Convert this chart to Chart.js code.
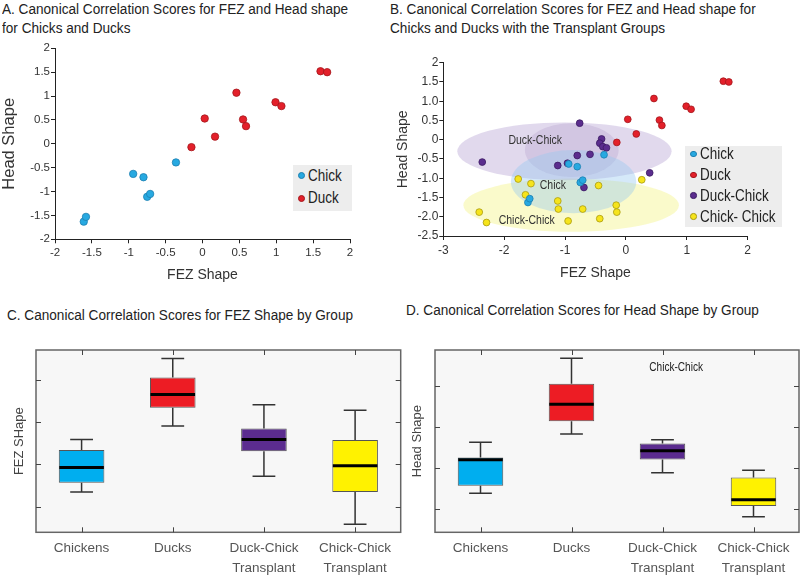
<!DOCTYPE html>
<html>
<head>
<meta charset="utf-8">
<script src="https://cdn.jsdelivr.net/npm/chart.js@4.4.0/dist/chart.umd.min.js"></script>
<style>
    html, body { margin: 0; padding: 0; background: #fff; }
    body { width: 800px; height: 576px; position: relative; overflow: hidden; }
    canvas { position: absolute; }
    .title {
        position: absolute; white-space: nowrap; color: #222;
        font-family: 'Liberation Sans', Arial, sans-serif;
        font-size: 15.5px; line-height: 18.5px;
        transform: scaleX(0.877); transform-origin: 0 0;
    }
    .legend { position: absolute; background: #ededed; }
    .legend .row {
        position: absolute; left: 0; white-space: nowrap; color: #222;
        font-family: 'Liberation Sans', Arial, sans-serif;
        font-size: 16px; height: 20px; line-height: 20px;
    }
    .legend .dot {
        display: inline-block; border-radius: 50%; vertical-align: middle;
        position: relative; top: -1px; margin-right: 3px; box-sizing: border-box;
    }
    .legend .txt { display: inline-block; transform: scaleX(0.84); transform-origin: 0 50%; }
</style>
</head>
<body>
<div class="title" style="left:2px; top:0px;">A. Canonical Correlation Scores for FEZ and Head shape<br>for Chicks and Ducks</div>
<div class="title" style="left:390px; top:0px;">B. Canonical Correlation Scores for FEZ and Head shape for<br>Chicks and Ducks with the Transplant Groups</div>
<div class="title" style="left:7px; top:306px;">C. Canonical Correlation Scores for FEZ Shape by Group</div>
<div class="title" style="left:406px; top:301px;">D. Canonical Correlation Scores for Head Shape by Group</div>

<canvas id="chartA" width="400" height="290" style="left:0; top:0;"></canvas>
<canvas id="chartB" width="405" height="290" style="left:395px; top:0;"></canvas>
<canvas id="chartC" width="403" height="286" style="left:0; top:290px;"></canvas>
<canvas id="chartD" width="400" height="286" style="left:400px; top:290px;"></canvas>

<div class="legend" id="legendA" style="left:293px; top:165px; width:59px; height:46px;"></div>
<div class="legend" id="legendB" style="left:685px; top:146px; width:97px; height:81px;"></div>

<script>
// scatter scores: x = FEZ shape, y = head shape
const chickFez = [-1.61, -1.58, -0.94, -0.80, -0.75, -0.71, -0.36];
const chickHead = [-1.63, -1.53, -0.63, -0.70, -1.11, -1.05, -0.39];
const duckFez = [-0.15, 0.03, 0.17, 0.46, 0.55, 0.59, 0.99, 1.07, 1.60, 1.69];
const duckHead = [-0.07, 0.53, 0.15, 1.07, 0.51, 0.37, 0.87, 0.79, 1.52, 1.50];
const duckChickFez = [-0.76, -0.40, -0.43, -0.38, -0.32, -0.59, -0.80, -1.12, -2.36, 0.39, -0.69, -0.96];
const duckChickHead = [0.43, 0.02, -0.09, -0.18, -0.21, -0.38, -0.41, -0.67, -0.58, -0.86, -1.24, -0.61];
const chickChickFez = [-1.77, -1.56, -1.65, -2.41, -2.29, -1.12, -1.11, -0.95, -0.71, -0.45, -0.43, -0.16, -0.15, 0.26];
const chickChickHead = [-1.02, -1.14, -1.43, -1.88, -2.15, -1.59, -1.80, -2.11, -1.80, -1.19, -2.05, -1.70, -1.88, -1.04];

// group ellipses in panel B (centre and radii in score units)
const ellipseCx = [-0.90, -1.01, -0.89, -0.86];
const ellipseCy = [-1.70, -0.30, -0.27, -1.09];
const ellipseRx = [1.77, 1.76, 0.77, 1.03];
const ellipseRy = [0.69, 0.75, 0.70, 0.82];
const ellipseLabels = ['Chick-Chick', 'Duck-Chick', 'Chick'];
const ellipseLabelX = [-1.63, -1.49, -1.20];
const ellipseLabelY = [-2.09, -0.01, -1.18];

// axis ticks
const aTicks = [-2, -1.5, -1, -0.5, 0, 0.5, 1, 1.5, 2];
const aTickLabels = ['-2', '-1.5', '-1', '-0.5', '0', '0.5', '1', '1.5', '2'];
const bXTicks = [-3, -2, -1, 0, 1, 2];
const bXTickLabels = ['-3', '-2', '-1', '0', '1', '2'];
const bYTicks = [-2.5, -2, -1.5, -1, -0.5, 0, 0.5, 1, 1.5, 2];
const bYTickLabels = ['-2.5', '-2.0', '-1.5', '-1.0', '-0.5', '0', '0.5', '1.0', '1.5', '2'];
const boxTicks = [1, 2, 3, 4];

// box plots (unlabelled score axis)
const groups = [['Chickens'], ['Ducks'], ['Duck-Chick', 'Transplant'], ['Chick-Chick', 'Transplant']];
const fezMin = [1.35, 2.91, 1.72, 0.59];
const fezQ1 = [1.57, 3.34, 2.31, 1.35];
const fezMed = [1.93, 3.65, 2.59, 1.97];
const fezQ3 = [2.34, 4.05, 2.85, 2.58];
const fezMax = [2.59, 4.50, 3.41, 3.28];
const headMin = [1.39, 2.83, 1.89, 0.82];
const headQ1 = [1.57, 3.14, 2.21, 1.08];
const headMed = [2.20, 3.55, 2.42, 1.23];
const headQ3 = [2.26, 4.05, 2.60, 1.77];
const headMax = [2.63, 4.67, 2.69, 1.95];
const headNote = 'Chick-Chick';
const headNoteX = 2.15;
const headNoteY = 4.43;

const plain = "'Liberation Sans', Arial, sans-serif";

const dotColors = {
    chick: ['#27a9e1', '#1d7fb0'],
    duck: ['#e3202a', '#a3161c'],
    duckChick: ['#5b2d8e', '#3c1c63'],
    chickChick: ['#f6e41c', '#a99a10'],
};
const ellipseFills = ['rgba(245,245,140,0.45)', 'rgba(180,160,210,0.4)', 'rgba(150,120,180,0.2)', 'rgba(150,200,240,0.4)'];
const boxColors = ['#00aeef', '#ed1c24', '#5b2c8f', '#fff200'];

Chart.defaults.font.family = plain;
Chart.defaults.color = '#333';
Chart.defaults.animation = false;
Chart.defaults.plugins.legend.display = false;
Chart.defaults.plugins.tooltip.enabled = false;

const pointSet = (label, xs, ys, colors, radius) => ({
    label,
    data: xs.map((x, i) => ({ x, y: ys[i] })),
    backgroundColor: colors[0],
    borderColor: colors[1],
    borderWidth: 0.8,
    pointRadius: radius,
});

const fixTicks = (values) => (scale) => {
    scale.ticks = values.map((v) => ({ value: v }));
};

// draws horizontally squeezed text, like the narrow lettering of the figure
const narrowText = (ctx, text, x, y, size, squeeze) => {
    ctx.save();
    ctx.font = size + 'px ' + plain;
    ctx.textAlign = 'center';
    ctx.textBaseline = 'middle';
    ctx.translate(x, y);
    ctx.scale(squeeze, 1);
    ctx.fillText(text, 0, 0);
    ctx.restore();
};

const linearAxis = (min, max, ticks, labels, fontSize, size, isX, title, titleSize) => ({
    type: 'linear',
    min,
    max,
    afterBuildTicks: fixTicks(ticks),
    afterFit: (scale) => {
        if (isX) {
            scale.height = size;
        } else {
            scale.width = size;
        }
    },
    grid: { display: true, drawOnChartArea: false, drawTicks: true, tickLength: 4, color: '#222' },
    border: { display: true, color: '#222', width: 1 },
    ticks: {
        autoSkip: false,
        maxRotation: 0,
        padding: isX ? 3 : 1,
        color: '#333',
        font: { size: fontSize },
        callback: (value, index) => labels[index],
    },
    title: { display: true, text: title, color: '#333', font: { size: titleSize }, padding: { top: 0, bottom: 0 } },
});

const ellipsePlugin = {
    id: 'groupEllipses',
    beforeDatasetsDraw(chart) {
        const { ctx, scales: { x, y } } = chart;
        ctx.save();
        ellipseCx.forEach((cx, i) => {
            const px = x.getPixelForValue(cx);
            const py = y.getPixelForValue(ellipseCy[i]);
            const rx = Math.abs(x.getPixelForValue(cx + ellipseRx[i]) - px);
            const ry = Math.abs(y.getPixelForValue(ellipseCy[i] + ellipseRy[i]) - py);
            ctx.fillStyle = ellipseFills[i];
            ctx.beginPath();
            ctx.ellipse(px, py, rx, ry, 0, 0, Math.PI * 2);
            ctx.fill();
        });
        ctx.fillStyle = '#333';
        ellipseLabels.forEach((text, i) => {
            narrowText(ctx, text, x.getPixelForValue(ellipseLabelX[i]), y.getPixelForValue(ellipseLabelY[i]), 12.5, 0.84);
        });
        ctx.restore();
    },
};

new Chart(document.getElementById('chartA'), {
    type: 'scatter',
    data: {
        datasets: [
            pointSet('Chick', chickFez, chickHead, dotColors.chick, 3.7),
            pointSet('Duck', duckFez, duckHead, dotColors.duck, 3.7),
        ],
    },
    options: {
        responsive: false,
        layout: { padding: { left: 0, top: 48.3, right: 50, bottom: 6.7 } },
        scales: {
            x: linearAxis(-2, 2, aTicks, aTickLabels, 11.5, 44, true, 'FEZ Shape', 14),
            y: linearAxis(-2, 2, aTicks, aTickLabels, 11.5, 55, false, 'Head Shape', 16.5),
        },
    },
});

new Chart(document.getElementById('chartB'), {
    type: 'scatter',
    data: {
        datasets: [
            pointSet('Chick', chickFez, chickHead, dotColors.chick, 3.4),
            pointSet('Duck', duckFez, duckHead, dotColors.duck, 3.4),
            pointSet('Duck-Chick', duckChickFez, duckChickHead, dotColors.duckChick, 3.4),
            pointSet('Chick- Chick', chickChickFez, chickChickHead, dotColors.chickChick, 3.4),
        ],
    },
    options: {
        responsive: false,
        layout: { padding: { left: 0, top: 62.7, right: 52.3, bottom: 8.7 } },
        scales: {
            x: linearAxis(-3, 2, bXTicks, bXTickLabels, 12, 45.3, true, 'FEZ Shape', 14),
            y: linearAxis(-2.5, 2, bYTicks, bYTickLabels, 12, 48.3, false, 'Head Shape', 14),
        },
    },
    plugins: [ellipsePlugin],
});

const boxPlugin = (mins, q1s, meds, q3s, maxs, note) => ({
    id: 'boxWhiskers',
    beforeDatasetsDraw(chart) {
        const { ctx, chartArea: a } = chart;
        ctx.save();
        ctx.fillStyle = '#f7f7f7';
        ctx.fillRect(a.left, a.top, a.width, a.height);
        ctx.restore();
    },
    afterDatasetsDraw(chart) {
        const { ctx, scales: { x, y } } = chart;
        const meta = chart.getDatasetMeta(0);
        ctx.save();
        mins.forEach((lo, i) => {
            const cx = x.getPixelForValue(i);
            const half = meta.data[i].width / 2;
            const cap = meta.data[i].width / 4;
            const yMax = y.getPixelForValue(maxs[i]);
            const yMin = y.getPixelForValue(lo);
            ctx.strokeStyle = '#333';
            ctx.lineWidth = 1.5;
            ctx.beginPath();
            ctx.moveTo(cx, yMax);
            ctx.lineTo(cx, y.getPixelForValue(q3s[i]));
            ctx.moveTo(cx, y.getPixelForValue(q1s[i]));
            ctx.lineTo(cx, yMin);
            ctx.moveTo(cx - cap, yMax);
            ctx.lineTo(cx + cap, yMax);
            ctx.moveTo(cx - cap, yMin);
            ctx.lineTo(cx + cap, yMin);
            ctx.stroke();
            const ym = y.getPixelForValue(meds[i]);
            ctx.strokeStyle = '#000';
            ctx.lineWidth = 3;
            ctx.beginPath();
            ctx.moveTo(cx - half + 0.5, ym);
            ctx.lineTo(cx + half - 0.5, ym);
            ctx.stroke();
        });
        if (note) {
            ctx.fillStyle = '#222';
            narrowText(ctx, note.text, x.getPixelForValue(note.x), y.getPixelForValue(note.y), 12, 0.84);
        }
        ctx.restore();
    },
    afterDraw(chart) {
        const { ctx, chartArea: a, scales: { x, y } } = chart;
        ctx.save();
        ctx.strokeStyle = '#666';
        ctx.lineWidth = 1.5;
        ctx.strokeRect(a.left, a.top, a.width, a.height);
        ctx.strokeStyle = '#444';
        ctx.lineWidth = 1;
        ctx.beginPath();
        y.ticks.forEach((t) => {
            const py = Math.round(y.getPixelForValue(t.value)) + 0.5;
            ctx.moveTo(a.left, py);
            ctx.lineTo(a.left + 5, py);
            ctx.moveTo(a.right, py);
            ctx.lineTo(a.right - 5, py);
        });
        groups.forEach((g, i) => {
            const px = Math.round(x.getPixelForValue(i)) + 0.5;
            ctx.moveTo(px, a.top);
            ctx.lineTo(px, a.top + 5);
            ctx.moveTo(px, a.bottom);
            ctx.lineTo(px, a.bottom - 5);
        });
        ctx.stroke();
        ctx.restore();
    },
});

const boxChart = (id, mins, q1s, meds, q3s, maxs, yMin, yMax, yTitle, titlePad, yWidth, padRight, note) => new Chart(document.getElementById(id), {
    type: 'bar',
    data: {
        labels: groups,
        datasets: [{
            data: q1s.map((q, i) => [q, q3s[i]]),
            backgroundColor: boxColors,
            borderColor: '#555',
            borderWidth: 1,
            borderSkipped: false,
            barPercentage: 0.5,
            categoryPercentage: 1,
        }],
    },
    options: {
        responsive: false,
        layout: { padding: { left: 0, top: 60, right: padRight, bottom: 0 } },
        scales: {
            x: {
                afterFit: (scale) => { scale.height = 43.7; },
                grid: { display: false },
                border: { display: false },
                ticks: {
                    autoSkip: false,
                    maxRotation: 0,
                    padding: -1.6,
                    color: '#555',
                    font: { size: 13.5, lineHeight: 1.48 },
                },
            },
            y: {
                min: yMin,
                max: yMax,
                afterBuildTicks: fixTicks(boxTicks),
                afterFit: (scale) => { scale.width = yWidth; },
                grid: { display: false },
                border: { display: false },
                ticks: { display: false },
                title: { display: true, text: yTitle, color: '#444', font: { size: 13 }, padding: { top: titlePad, bottom: 0 } },
            },
        },
    },
    plugins: [boxPlugin(mins, q1s, meds, q3s, maxs, note)],
});

boxChart('chartC', fezMin, fezQ1, fezMed, fezQ3, fezMax, 0.4, 4.7, 'FEZ SHape', 11.5, 36, 2.3, null);
boxChart('chartD', headMin, headQ1, headMed, headQ3, headMax, 0.44, 4.87, 'Head Shape', 10, 35, 1,
    { text: headNote, x: headNoteX, y: headNoteY });

// legends inside the scatter panels
const buildLegend = (id, names, colors, firstTop, step, dot) => {
    const box = document.getElementById(id);
    names.forEach((name, i) => {
        const row = document.createElement('div');
        row.className = 'row';
        row.style.top = (firstTop + i * step) + 'px';
        row.style.left = '5px';
        const d = document.createElement('span');
        d.className = 'dot';
        d.style.width = dot + 'px';
        d.style.height = dot + 'px';
        d.style.background = colors[i][0];
        d.style.border = '0.8px solid ' + colors[i][1];
        const t = document.createElement('span');
        t.className = 'txt';
        t.textContent = name;
        row.appendChild(d);
        row.appendChild(t);
        box.appendChild(row);
    });
};
buildLegend('legendA', ['Chick', 'Duck'], [dotColors.chick, dotColors.duck], 0.7, 22.6, 7);
buildLegend('legendB', ['Chick', 'Duck', 'Duck-Chick', 'Chick- Chick'],
    [dotColors.chick, dotColors.duck, dotColors.duckChick, dotColors.chickChick], -1.7, 20.8, 6.5);
</script>
</body>
</html>
